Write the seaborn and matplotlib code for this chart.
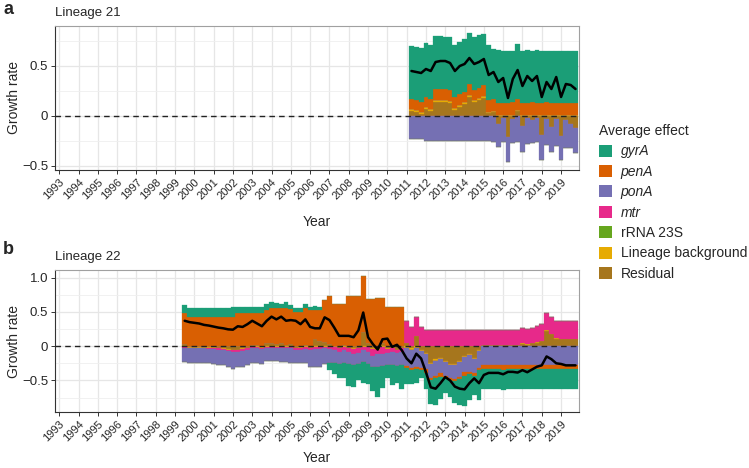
import numpy as np
import matplotlib
matplotlib.use('Agg')
import matplotlib.pyplot as plt
from matplotlib.patches import Patch
import seaborn as sns

# ---- data (quarterly average effects on growth rate) ----
effects = ['gyrA', 'penA', 'ponA', 'mtr', 'rRNA 23S', 'Lineage background', 'Residual']
colors = ['#1B9E77', '#D95F02', '#7570B3', '#E7298A', '#66A61E', '#E6AB02', '#A6761D']

start_a = 2011.25
gyrA_a = [0.53, 0.53, 0.54, 0.54, 0.54, 0.53, 0.53, 0.52, 0.53, 0.52,
          0.52, 0.53, 0.51, 0.53, 0.53, 0.51, 0.55, 0.50, 0.53, 0.52,
          0.52, 0.51, 0.55, 0.52, 0.53, 0.51, 0.53, 0.52, 0.51, 0.52,
          0.52, 0.52, 0.52, 0.52, 0.52]
penA_a = [0.10, 0.10, 0.10, 0.10, 0.10, 0.11, 0.11, 0.11, 0.11, 0.11,
          0.11, 0.10, 0.11, 0.10, 0.10, 0.11, 0.12, 0.12, 0.12, 0.12,
          0.12, 0.13, 0.11, 0.12, 0.12, 0.13, 0.12, 0.12, 0.13, 0.12,
          0.12, 0.12, 0.12, 0.12, 0.12]
ponA_a = [-0.23, -0.23, -0.23, -0.25, -0.25, -0.25, -0.25, -0.25, -0.25, -0.25,
          -0.25, -0.25, -0.25, -0.25, -0.25, -0.25, -0.25, -0.26, -0.23, -0.24,
          -0.25, -0.24, -0.26, -0.26, -0.26, -0.23, -0.24, -0.25, -0.26, -0.25,
          -0.27, -0.24, -0.28, -0.24, -0.25]
mtr_a = [0.0] * 35
rrna_a = [0.0] * 35
lin_a = [0.02] * 16 + [0.01] * 19
res_a = [0.05, 0.04, 0.02, 0.07, 0.05, 0.14, 0.14, 0.14, 0.13, 0.06,
         0.09, 0.12, 0.19, 0.14, 0.16, 0.18, 0.03, 0.04, -0.08, -0.02,
         -0.21, -0.03, 0.05, -0.10, -0.02, -0.04, -0.02, -0.19, -0.03, -0.11,
         -0.03, -0.20, -0.04, -0.08, -0.12]
growth_a = [0.45, 0.44, 0.43, 0.47, 0.45, 0.54, 0.55, 0.55, 0.53, 0.45,
            0.50, 0.52, 0.58, 0.52, 0.54, 0.57, 0.41, 0.44, 0.34, 0.38,
            0.18, 0.37, 0.46, 0.30, 0.40, 0.35, 0.40, 0.19, 0.34, 0.27,
            0.39, 0.19, 0.32, 0.31, 0.27]

start_b = 1999.5
gyrA_b = [0.12, 0.13, 0.13, 0.13, 0.13, 0.13, 0.13, 0.13, 0.13, 0.13,
          0.15, 0.09, 0.09, 0.09, 0.09, 0.09, 0.09, 0.09, 0.10, 0.07,
          0.06, 0.08, 0.06, 0.05, 0.06, 0.06, 0.05, 0.05, 0.05, 0.00,
          -0.11, -0.15, -0.21, -0.23, -0.32, -0.32, -0.24, -0.30, -0.29, -0.34,
          -0.44, -0.32, -0.18, -0.30, -0.25, -0.35, -0.23, -0.20, -0.20, -0.12,
          -0.23, -0.35, -0.40, -0.32, -0.23, -0.25, -0.32, -0.38, -0.44, -0.38,
          -0.27, -0.43, -0.30, -0.29, -0.28, -0.28, -0.29, -0.28, -0.28, -0.28,
          -0.28, -0.28, -0.28, -0.28, -0.28, -0.28, -0.28, -0.28, -0.28, -0.28,
          -0.28, -0.28]
penA_b = [0.45, 0.42, 0.42, 0.42, 0.42, 0.42, 0.42, 0.42, 0.42, 0.42,
          0.42, 0.48, 0.48, 0.48, 0.46, 0.47, 0.48, 0.49, 0.50, 0.53,
          0.50, 0.54, 0.51, 0.50, 0.50, 0.54, 0.52, 0.43, 0.44, 0.61,
          0.70, 0.62, 0.62, 0.60, 0.73, 0.73, 0.73, 0.82, 0.63, 0.68,
          0.70, 0.66, 0.57, 0.57, 0.57, 0.57, -0.03, -0.03, -0.03, -0.03,
          -0.05, -0.03, -0.03, -0.06, -0.03, -0.03, -0.03, -0.03, -0.05, -0.03,
          -0.05, -0.03, -0.06, -0.07, -0.06, -0.06, -0.07, -0.06, -0.06, -0.06,
          -0.06, -0.06, -0.06, -0.06, -0.06, -0.06, -0.06, -0.06, -0.06, -0.06,
          -0.06, -0.06]
ponA_b = [-0.21, -0.21, -0.21, -0.21, -0.22, -0.21, -0.22, -0.22, -0.22, -0.24,
          -0.25, -0.22, -0.23, -0.21, -0.21, -0.21, -0.22, -0.19, -0.19, -0.19,
          -0.20, -0.20, -0.21, -0.19, -0.20, -0.21, -0.24, -0.27, -0.27, -0.23,
          -0.20, -0.20, -0.18, -0.18, -0.17, -0.17, -0.16, -0.17, -0.17, -0.17,
          -0.18, -0.18, -0.18, -0.19, -0.19, -0.20, -0.27, -0.27, -0.28, -0.25,
          -0.22, -0.20, -0.22, -0.20, -0.20, -0.18, -0.20, -0.22, -0.22, -0.24,
          -0.20, -0.25, -0.27, -0.27, -0.28, -0.28, -0.28, -0.28, -0.28, -0.28,
          -0.28, -0.28, -0.28, -0.28, -0.28, -0.28, -0.28, -0.28, -0.28, -0.28,
          -0.28, -0.28]
mtr_b = [-0.01, -0.01, -0.01, -0.01, -0.01, -0.02, -0.02, -0.02, -0.02, -0.02,
         -0.02, -0.03, -0.03, -0.03, -0.02, -0.02, -0.02, -0.02, -0.02, -0.02,
         -0.02, -0.02, -0.02, -0.03, -0.03, -0.03, -0.03, -0.03, -0.03, -0.02,
         -0.03, -0.04, -0.05, -0.05, -0.06, -0.07, -0.07, -0.05, -0.08, -0.10,
         -0.07, -0.10, -0.06, -0.05, -0.04, -0.05, 0.31, 0.28, 0.27, 0.28,
         0.24, 0.24, 0.24, 0.24, 0.24, 0.24, 0.24, 0.24, 0.24, 0.24,
         0.24, 0.24, 0.22, 0.22, 0.22, 0.22, 0.22, 0.22, 0.22, 0.22,
         0.23, 0.22, 0.22, 0.23, 0.25, 0.25, 0.24, 0.24, 0.26, 0.25,
         0.25, 0.25]
rrna_b = [0.0] * 82
lin_b = [-0.01] * 46 + [-0.02] * 16 + [0.01] * 20
res_b = [0.03, -0.01, -0.01, -0.01, -0.01, -0.01, -0.01, -0.02, -0.03, -0.04,
         -0.05, -0.05, -0.03, -0.02, 0.02, 0.01, -0.01, 0.04, 0.05, 0.03,
         0.05, 0.02, 0.03, -0.02, -0.01, 0.02, -0.02, 0.10, 0.08, 0.06,
         0.03, 0.00, -0.02, 0.02, -0.02, -0.03, -0.02, 0.20, 0.05, -0.03,
         -0.04, 0.04, -0.03, -0.02, -0.05, -0.02, 0.05, -0.03, 0.15, -0.05,
         -0.10, -0.24, -0.19, -0.17, -0.21, -0.26, -0.26, -0.21, -0.14, -0.11,
         -0.17, -0.05, 0.01, 0.01, 0.01, 0.01, 0.01, 0.01, 0.01, 0.01,
         0.03, 0.02, 0.04, 0.05, 0.07, 0.22, 0.17, 0.11, 0.10, 0.10,
         0.10, 0.10]
growth_b = [0.37, 0.35, 0.34, 0.33, 0.31, 0.30, 0.285, 0.27, 0.26, 0.245,
            0.24, 0.29, 0.28, 0.32, 0.37, 0.33, 0.29, 0.37, 0.43, 0.39,
            0.43, 0.37, 0.38, 0.37, 0.32, 0.39, 0.28, 0.26, 0.26, 0.42,
            0.38, 0.27, 0.15, 0.15, 0.15, 0.13, 0.23, 0.49, 0.13, 0.03,
            -0.05, 0.10, 0.11, -0.01, 0.02, -0.06, -0.18, -0.25, -0.11, -0.18,
            -0.38, -0.60, -0.62, -0.54, -0.45, -0.50, -0.59, -0.62, -0.63, -0.54,
            -0.47, -0.54, -0.42, -0.39, -0.39, -0.39, -0.41, -0.375, -0.375, -0.385,
            -0.35, -0.38, -0.34, -0.30, -0.28, -0.15, -0.19, -0.25, -0.26, -0.28,
            -0.28, -0.28]

years = list(range(1993, 2020))

sns.set_theme(style='whitegrid')
plt.rcParams['font.family'] = ['Liberation Sans', 'DejaVu Sans']

fig = plt.figure(figsize=(7.49, 4.68), dpi=100)
W, H = 749, 468


def panel(x0, y0, x1, y1):
    return fig.add_axes([x0 / W, 1 - y1 / H, (x1 - x0) / W, (y1 - y0) / H])


def draw(ax, start, comps, growth, ylim, yticks, yminor):
    n = len(growth)
    t = start + 0.25 * np.arange(n)
    pos = np.zeros(n)
    neg = np.zeros(n)
    # ggplot stacks the last level next to zero
    for name, col, vals in list(zip(effects, colors, comps))[::-1]:
        v = np.asarray(vals, dtype=float)
        up = np.clip(v, 0, None)
        dn = np.clip(v, None, 0)
        ax.bar(t, up, width=0.25, bottom=pos, color=col, edgecolor=col, linewidth=0.2, zorder=2)
        ax.bar(t, dn, width=0.25, bottom=neg, color=col, edgecolor=col, linewidth=0.2, zorder=2)
        pos += up
        neg += dn
    ax.axhline(0, color='#222222', lw=1.0, ls=(0, (4, 3)), zorder=3)
    sns.lineplot(x=t, y=growth, ax=ax, color='black', linewidth=1.8, zorder=4)
    ax.set_xlim(1992.78, 2019.93)
    ax.set_ylim(*ylim)
    ax.set_xticks(years)
    ax.set_xticklabels([str(y) for y in years], rotation=45, ha='right',
                       rotation_mode='anchor', fontsize=8)
    ax.set_yticks(yticks)
    ax.set_yticklabels([('−' + f'{-v:g}' if v < 0 else ('0' if v == 0 else f'{v:.1f}')) for v in yticks],
                       fontsize=9.5)
    ax.set_yticks(yminor, minor=True)
    ax.grid(True, which='major', color='#E6E6E6', lw=0.9)
    ax.grid(True, which='minor', axis='y', color='#EFEFEF', lw=0.6)
    ax.set_axisbelow(True)
    ax.tick_params(axis='both', which='major', length=3, width=0.7, color='#333333',
                   direction='out', pad=2, left=True, bottom=True)
    ax.tick_params(axis='y', which='minor', length=0)
    for s in ['left', 'bottom']:
        ax.spines[s].set_color('#333333')
        ax.spines[s].set_linewidth(0.8)
    for s in ['top', 'right']:
        ax.spines[s].set_color('#A0A0A0')
        ax.spines[s].set_linewidth(0.8)
    ax.set_xlabel('')
    ax.set_ylabel('')


ax_a = panel(55, 26, 579, 170)
draw(ax_a, start_a, [gyrA_a, penA_a, ponA_a, mtr_a, rrna_a, lin_a, res_a], growth_a,
     (-0.54, 0.90), [-0.5, 0, 0.5], [-0.25, 0.25, 0.75])
ax_b = panel(55, 270, 579, 412)
draw(ax_b, start_b, [gyrA_b, penA_b, ponA_b, mtr_b, rrna_b, lin_b, res_b], growth_b,
     (-0.96, 1.11), [-0.5, 0, 0.5, 1.0], [-0.75, -0.25, 0.25, 0.75])

# panel annotations
fig.text(3 / W, 1 - 9 / H, 'a', fontsize=13, fontweight='bold', va='center', ha='left')
fig.text(3 / W, 1 - 250 / H, 'b', fontsize=13, fontweight='bold', va='center', ha='left')
fig.text(55 / W, 1 - 13 / H, 'Lineage 21', fontsize=9.5, va='center', ha='left')
fig.text(55 / W, 1 - 257 / H, 'Lineage 22', fontsize=9.5, va='center', ha='left')
fig.text(317 / W, 1 - 222 / H, 'Year', fontsize=10, va='center', ha='center')
fig.text(317 / W, 1 - 458 / H, 'Year', fontsize=10, va='center', ha='center')
fig.text(14 / W, 1 - 98 / H, 'Growth rate', fontsize=10, va='center', ha='center', rotation=90)
fig.text(14 / W, 1 - 341 / H, 'Growth rate', fontsize=10, va='center', ha='center', rotation=90)

handles = [Patch(facecolor=c, edgecolor='none') for c in colors]
leg = fig.legend(handles, effects, loc='upper left', bbox_to_anchor=(599 / W, 1 - 124 / H),
                 frameon=False, title='Average effect', fontsize=10, title_fontsize=10,
                 handlelength=0.95, handleheight=0.95, handletextpad=0.6,
                 labelspacing=0.46, borderpad=0, borderaxespad=0, alignment='left')
for txt in leg.get_texts()[:4]:
    txt.set_fontstyle('italic')

fig.savefig('out.png', dpi=100)
